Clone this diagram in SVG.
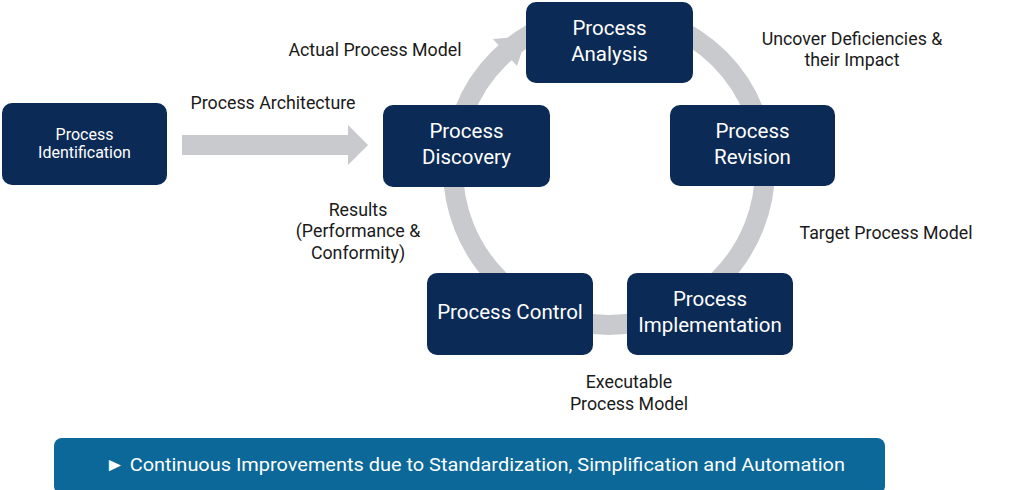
<svg xmlns="http://www.w3.org/2000/svg" width="1024" height="490" viewBox="0 0 1024 490">
<style>
.node{fill:#0b2a55}
.nt{fill:#ffffff;font-family:Roboto,"Liberation Sans",sans-serif;font-size:20.5px;text-anchor:middle}
.lbl{fill:#1a1a1a;font-family:Roboto,"Liberation Sans",sans-serif;font-size:17.8px;text-anchor:middle}
.conn{fill:#c9cacd}
</style>
<rect width="1024" height="490" fill="#ffffff"/>
<g id="connectors">
<circle cx="609" cy="169" r="156" fill="none" stroke="#c9cacd" stroke-width="20"/>
<polygon class="conn" points="493,39 527,36 517,66"/>
<polygon class="conn" points="182,135 348,135 348,125 368,145 348,165 348,155 182,155"/>
</g>
<g id="identification">
<rect class="node" x="2" y="103" width="165" height="82" rx="10"/>
<text class="nt" style="font-size:16px" x="84.5" y="140">Process</text>
<text class="nt" style="font-size:16px" x="84.5" y="158">Identification</text>
</g>
<g id="discovery">
<rect class="node" x="383" y="105" width="167" height="82" rx="10"/>
<text class="nt" x="466.5" y="138">Process</text>
<text class="nt" x="466.5" y="164">Discovery</text>
</g>
<g id="analysis">
<rect class="node" x="526" y="2" width="167" height="81" rx="10"/>
<text class="nt" x="609.5" y="35">Process</text>
<text class="nt" x="609.5" y="61">Analysis</text>
</g>
<g id="revision">
<rect class="node" x="670" y="105" width="165" height="81" rx="10"/>
<text class="nt" x="752.5" y="138">Process</text>
<text class="nt" x="752.5" y="164">Revision</text>
</g>
<g id="control">
<rect class="node" x="427" y="273" width="166" height="82" rx="10"/>
<text class="nt" x="510" y="319">Process Control</text>
</g>
<g id="implementation">
<rect class="node" x="627" y="273" width="166" height="82" rx="10"/>
<text class="nt" x="710" y="306">Process</text>
<text class="nt" x="710" y="332">Implementation</text>
</g>
<g id="labels">
<text class="lbl" x="273" y="109">Process Architecture</text>
<text class="lbl" x="375" y="56">Actual Process Model</text>
<text class="lbl" x="852" y="45">Uncover Deficiencies &amp;</text>
<text class="lbl" x="852" y="66">their Impact</text>
<text class="lbl" x="886" y="239">Target Process Model</text>
<text class="lbl" x="358" y="216">Results</text>
<text class="lbl" x="358" y="237">(Performance &amp;</text>
<text class="lbl" x="358" y="259">Conformity)</text>
<text class="lbl" x="629" y="388">Executable</text>
<text class="lbl" x="629" y="410">Process Model</text>
</g>
<g id="banner">
<rect x="54" y="438" width="831" height="56" rx="8" fill="#0b6898"/>
<text x="475" y="471" fill="#ffffff" font-family="Roboto,'Liberation Sans',sans-serif" font-size="19" text-anchor="middle" textLength="740" lengthAdjust="spacingAndGlyphs">► Continuous Improvements due to Standardization, Simplification and Automation</text>
</g>
</svg>
